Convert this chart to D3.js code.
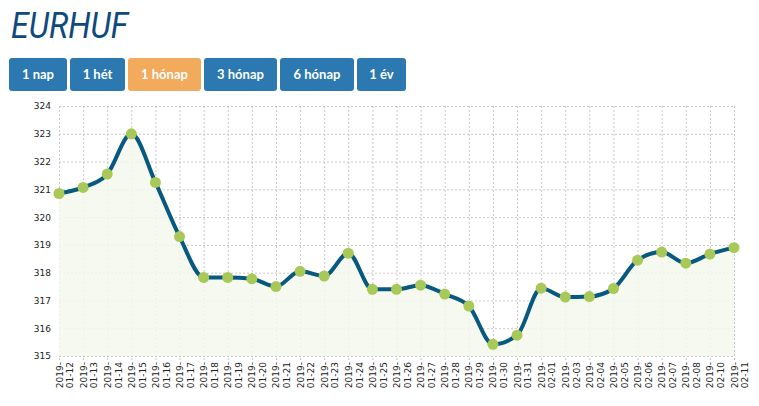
<!DOCTYPE html>
<html>
<head>
<meta charset="utf-8">
<script src="https://cdn.jsdelivr.net/npm/d3@7"></script>
<style>
  html, body { margin: 0; padding: 0; background: #fff; }
  svg { display: block; }
</style>
</head>
<body>
<svg id="chart" width="759" height="406"></svg>
<script>
// EUR/HUF daily rates, one month
const dates = ["2019-01-12","2019-01-13","2019-01-14","2019-01-15","2019-01-16","2019-01-17",
  "2019-01-18","2019-01-19","2019-01-20","2019-01-21","2019-01-22","2019-01-23","2019-01-24",
  "2019-01-25","2019-01-26","2019-01-27","2019-01-28","2019-01-29","2019-01-30","2019-01-31",
  "2019-02-01","2019-02-03","2019-02-04","2019-02-05","2019-02-06","2019-02-07","2019-02-08",
  "2019-02-10","2019-02-11"];
const rates = [320.85, 321.07, 321.55, 323.0, 321.25, 319.3,
  317.83, 317.83, 317.78, 317.5, 318.05, 317.88, 318.7,
  317.4, 317.4, 317.55, 317.23, 316.8, 315.42, 315.75,
  317.44, 317.12, 317.14, 317.43, 318.45, 318.74, 318.34,
  318.67, 318.9];
const yTicks = [315, 316, 317, 318, 319, 320, 321, 322, 323, 324];
const buttons = ["1 nap", "1 hét", "1 hónap", "3 hónap", "6 hónap", "1 év"];
const activeButton = "1 hónap";

const svg = d3.select("#chart");

// title
svg.append("text")
    .attr("x", 11)
    .attr("y", 38)
    .attr("fill", "#0e4a7c")
    .style("font-family", "Roboto, 'Open Sans', sans-serif")
    .style("font-style", "italic")
    .style("font-weight", "400")
    .style("font-size", "36px")
    .attr("textLength", 117)
    .attr("lengthAdjust", "spacingAndGlyphs")
    .text("EURHUF");

// period buttons
const btnWidths = [58, 55, 73, 73, 74, 49];
let bx = 9;
buttons.forEach((b, i) => {
    let g = svg.append("g").attr("transform", "translate(" + bx + ",58)");
    g.append("rect")
        .attr("width", btnWidths[i])
        .attr("height", 33)
        .attr("rx", 3)
        .attr("fill", b == activeButton ? "#f2aa5c" : "#2c79b1");
    g.append("text")
        .attr("x", btnWidths[i] / 2)
        .attr("y", 21)
        .attr("text-anchor", "middle")
        .attr("fill", "#fff")
        .style("font-family", "Lato, 'Open Sans', sans-serif")
        .style("font-weight", "bold")
        .style("font-size", "13px")
        .text(b);
    bx += btnWidths[i] + 3;
});

let margin = {left: 59, right: 25, top: 106, bottom: 50};

let xScale = d3.scalePoint()
    .domain(dates)
    .range([margin.left, 759 - margin.right]);

let yScale = d3.scaleLinear()
    .domain([315, 324])
    .range([406 - margin.bottom, margin.top]);

//Grid lines (dotted)
let grid = svg.append("g").attr("class", "grid");
grid.selectAll("line.h")
    .data(yTicks)
    .enter().append("line")
    .attr("class", "h")
    .attr("x1", margin.left)
    .attr("x2", 759 - margin.right)
    .attr("y1", d => yScale(d) + 0.5)
    .attr("y2", d => yScale(d) + 0.5);
grid.selectAll("line.v")
    .data(dates)
    .enter().append("line")
    .attr("class", "v")
    .attr("x1", d => xScale(d) + 0.5)
    .attr("x2", d => xScale(d) + 0.5)
    .attr("y1", margin.top)
    .attr("y2", yScale(315) + 4);
grid.selectAll("line")
    .attr("stroke", "#c8c8c8")
    .attr("stroke-width", 1)
    .attr("stroke-dasharray", "2,2");

let pts = dates.map((d, i) => ({date: d, value: rates[i]}));

//Area under the line
let area = d3.area()
    .x(d => xScale(d.date))
    .y0(yScale(315))
    .y1(d => yScale(d.value))
    .curve(d3.curveMonotoneX);

svg.append("path")
    .datum(pts)
    .attr("d", area)
    .attr("fill", "#f4f8ec")
    .attr("fill-opacity", 0.85);

//Line
let line = d3.line()
    .x(d => xScale(d.date))
    .y(d => yScale(d.value))
    .curve(d3.curveMonotoneX);

svg.append("path")
    .datum(pts)
    .attr("d", line)
    .attr("fill", "none")
    .attr("stroke", "#07597f")
    .attr("stroke-width", 4)
    .attr("stroke-linejoin", "round");

//Points
svg.selectAll("circle.pt")
    .data(pts)
    .enter().append("circle")
    .attr("class", "pt")
    .attr("cx", d => xScale(d.date))
    .attr("cy", d => yScale(d.value))
    .attr("r", 5.5)
    .attr("fill", "#a8c858");

//Y axis labels
let yAxis = svg.append("g")
    .attr("transform", "translate(" + (margin.left - 8) + ",0)")
    .call(d3.axisLeft(yScale).tickValues(yTicks).tickSize(0).tickPadding(0).tickFormat(d3.format("d")));
yAxis.select(".domain").remove();
yAxis.selectAll("text")
    .attr("fill", "#222")
    .style("font-family", "'DejaVu Sans', Verdana, sans-serif")
    .style("font-size", "9px");

//X axis labels, rotated, two lines each
let xLabels = svg.append("g").selectAll("text")
    .data(dates)
    .enter().append("text")
    .attr("transform", d => "translate(" + (xScale(d) + 3.5) + "," + (yScale(315) + 6) + ") rotate(-90)")
    .attr("text-anchor", "end")
    .attr("fill", "#222")
    .style("font-family", "'DejaVu Sans', Verdana, sans-serif")
    .style("font-size", "9px");

xLabels.append("tspan")
    .attr("x", 0)
    .attr("dy", 0)
    .text(d => d.slice(0, 5));
xLabels.append("tspan")
    .attr("x", 0)
    .attr("dy", "1.2em")
    .text(d => d.slice(5));
</script>
</body>
</html>
